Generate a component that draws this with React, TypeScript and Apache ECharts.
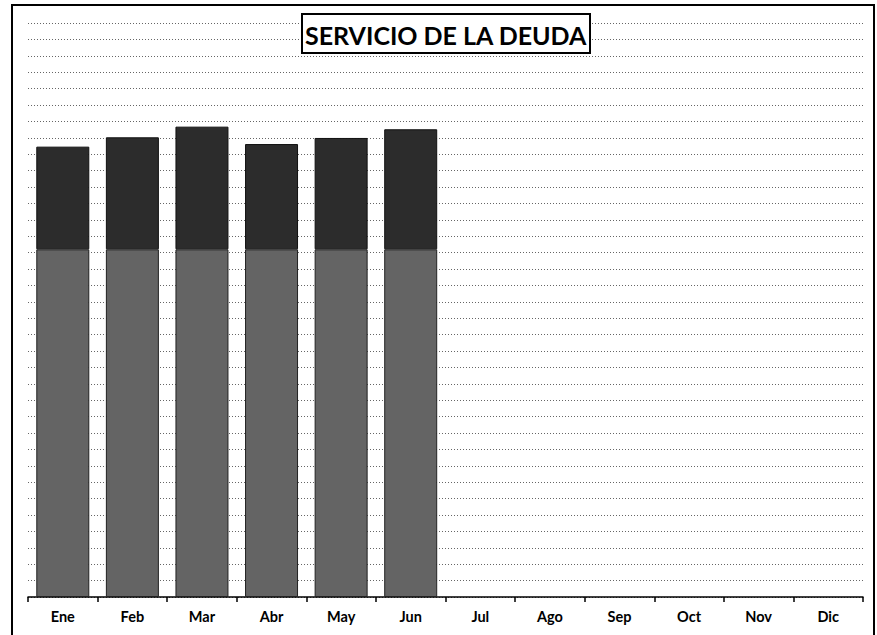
import React, { useEffect, useRef } from "react";
import * as echarts from "echarts";

const months = ["Ene", "Feb", "Mar", "Abr", "May", "Jun", "Jul", "Ago", "Sep", "Oct", "Nov", "Dic"];
const baseValues: (number | null)[] = [21.2, 21.2, 21.2, 21.2, 21.2, 21.2, null, null, null, null, null, null];
const upperValues: (number | null)[] = [6.26, 6.83, 7.48, 6.42, 6.79, 7.32, null, null, null, null, null, null];
const yMax = 35;
const yInterval = 1;
const titleText = "SERVICIO DE LA DEUDA";

export default function App() {
  const ref = useRef<HTMLDivElement>(null);
  useEffect(() => {
    document.body.style.margin = "0";
    const chart = echarts.init(ref.current!, null, { renderer: "svg" });
    chart.setOption({
      animation: false,
      backgroundColor: "#ffffff",
      title: {
        text: titleText,
        left: 302,
        top: 14,
        padding: [8, 3, 6, 3],
        borderColor: "#000",
        borderWidth: 2,
        backgroundColor: "#fff",
        textStyle: { fontFamily: "Lato", fontWeight: "bold", fontSize: 25, color: "#000" },
        z: 10,
      },
      graphic: [
        {
          type: "rect",
          shape: { x: 12, y: 5, width: 862, height: 640 },
          style: { fill: "none", stroke: "#000", lineWidth: 2 },
          z: 20,
        },
      ],
      grid: { left: 28, right: 14, top: 23, bottom: 38 },
      xAxis: {
        type: "category",
        data: months,
        axisLine: { lineStyle: { color: "#000", width: 1.5 } },
        axisTick: { show: true, length: 5, lineStyle: { color: "#000", width: 1.5 } },
        axisLabel: { fontFamily: "Lato", fontWeight: "bold", fontSize: 14.5, color: "#000", margin: 12 },
      },
      yAxis: {
        type: "value",
        min: 0,
        max: yMax,
        interval: yInterval,
        axisLine: { show: false },
        axisTick: { show: false },
        axisLabel: { show: false },
        splitLine: { lineStyle: { color: "#666", type: [1, 2], width: 1 } },
      },
      series: [
        {
          type: "bar",
          stack: "deuda",
          data: baseValues,
          barWidth: 53,
          itemStyle: { color: "#646464", borderColor: "#222", borderWidth: 1 },
        },
        {
          type: "bar",
          stack: "deuda",
          data: upperValues,
          barWidth: 53,
          itemStyle: { color: "#2c2c2c", borderColor: "#111", borderWidth: 1 },
        },
      ],
    });
    return () => chart.dispose();
  }, []);
  return <div ref={ref} style={{ width: 877, height: 635 }} />;
}
